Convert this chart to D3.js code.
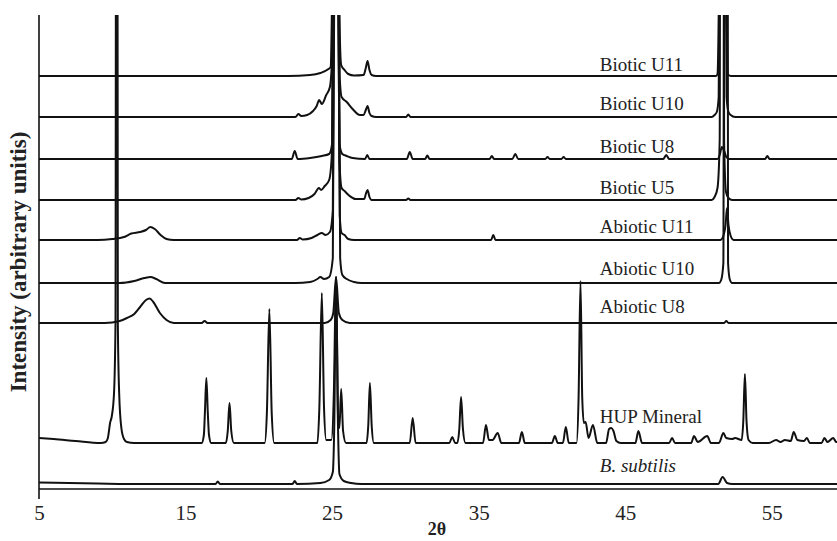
<!DOCTYPE html>
<html>
<head>
<meta charset="utf-8">
<script src="https://cdn.jsdelivr.net/npm/d3@7"></script>
<style>
  html, body { margin: 0; padding: 0; background: #fff; }
  svg { display: block; }
</style>
</head>
<body>
<svg id="chart" width="837" height="541"></svg>
<script>
// ---- DATA (2θ in degrees, intensity in arbitrary units above each trace's own baseline) ----
const seriesNames = ["Biotic U11", "Biotic U10", "Biotic U8", "Biotic U5",
  "Abiotic U11", "Abiotic U10", "Abiotic U8", "HUP Mineral", "B. subtilis"];
const stackOffsets = [413, 372, 330, 289, 249, 206, 166, 46, 5];
const xTicks = [5, 15, 25, 35, 45, 55];

const bioticU11 = [[5,0],[22,0],[23.5,1],[24.2,3],[24.65,6],[24.9,9],[24.98,60],[25.12,300],[25.25,3000],[25.38,300],[25.5,60],[25.62,11],[25.85,6],[26.1,2],[26.5,0.5],[27.15,1],[27.3,8],[27.42,15],[27.55,6],[27.7,1],[28,0],[51.2,0],[51.3,2],[51.38,60],[51.5,300],[51.65,3000],[51.8,300],[51.93,60],[52.0,2],[52.2,0],[60,0]];
const bioticU10 = [[5,0],[22.5,0],[22.7,3],[22.9,1],[23.3,2],[23.7,6],[23.95,11],[24.12,17],[24.3,13],[24.6,22],[24.85,30],[25.0,60],[25.12,300],[25.25,3000],[25.38,300],[25.52,40],[25.65,20],[26.0,15],[26.4,8],[26.9,2],[27.15,2],[27.3,7],[27.42,11],[27.55,4],[27.7,1],[28,0],[30.05,0],[30.2,2.5],[30.35,0],[50.9,0],[51.1,2],[51.25,5],[51.38,20],[51.5,300],[51.65,3000],[51.8,300],[51.92,20],[52.05,5],[52.2,2],[52.5,0],[60,0]];
const bioticU8 = [[5,0],[22.25,0],[22.45,8],[22.65,0],[23.5,1],[24.3,3],[24.8,5],[25.0,15],[25.12,300],[25.25,3000],[25.38,300],[25.5,15],[25.7,5],[26.0,3],[26.4,1],[27.25,0],[27.4,4],[27.55,0],[30.1,0],[30.3,7],[30.5,0],[31.35,0],[31.5,3.5],[31.65,0],[35.75,0],[35.9,3],[36.05,0],[37.3,0],[37.5,5],[37.7,0],[39.55,0],[39.7,2],[39.85,0],[40.65,0],[40.8,2],[40.95,0],[47.6,0],[47.8,4],[48.0,0],[51.3,0],[51.45,4],[51.6,12],[51.75,8],[51.9,2],[52.1,0],[54.55,0],[54.7,3],[54.85,0],[60,0]];
const bioticU5 = [[5,0],[22.5,0],[22.7,2],[22.9,0.5],[23.4,2],[23.8,6],[24.1,12],[24.25,10],[24.5,14],[24.8,20],[25.0,50],[25.12,300],[25.25,3000],[25.38,300],[25.5,40],[25.65,12],[25.85,9],[26.2,4],[26.6,1],[27.2,1],[27.3,6],[27.42,10],[27.55,3],[27.7,0],[30.05,0],[30.2,1.5],[30.35,0],[50.9,0],[51.1,3],[51.3,12],[51.45,60],[51.6,3000],[51.75,60],[51.88,8],[52.05,2],[52.3,0],[60,0]];
const abioticU11 = [[5,0],[9,0],[10,1],[10.8,3],[11.3,6.5],[11.9,8],[12.3,10],[12.6,13],[12.9,11],[13.3,5],[13.7,1],[14.2,0],[22.6,0],[22.8,2],[23.0,0.5],[23.6,2],[24.0,5],[24.3,7],[24.55,5],[24.85,8],[25.05,30],[25.15,300],[25.28,3000],[25.41,300],[25.52,25],[25.65,7],[25.85,5],[26.1,1],[26.5,0],[35.85,0],[36.0,5],[36.15,0],[51.5,0],[51.7,4],[51.85,15],[51.95,32],[52.05,15],[52.2,4],[52.4,0],[60,0]];
const abioticU10 = [[5,0],[10.5,0],[11.5,2],[12.2,5],[12.6,6],[13.0,4],[13.6,0],[22.5,0],[23.5,1],[24.0,4],[24.2,6],[24.45,4],[24.8,6],[25.05,25],[25.15,300],[25.3,3000],[25.45,300],[25.55,25],[25.7,8],[26.0,4],[26.5,1],[27,0],[51.4,0],[51.55,3],[51.7,20],[51.86,2500],[52.02,20],[52.15,3],[52.3,0],[60,0]];
const abioticU8 = [[5,0],[9.5,0],[10.5,2],[11.0,5],[11.5,9],[11.9,16],[12.3,23],[12.55,24.5],[12.8,21],[13.25,10],[13.7,3],[14.2,0],[16.1,0],[16.3,2],[16.5,0],[24.5,0],[24.9,3],[25.08,10],[25.27,46],[25.46,10],[25.7,3],[26.2,0],[51.75,0],[51.9,2],[52.05,0],[60,0]];
const hupMineral = [[5,5],[6,4],[7.5,2],[9.2,0],[9.55,1],[9.7,5],[9.85,20],[9.97,27],[10.12,50],[10.22,120],[10.3,1500],[10.38,120],[10.47,50],[10.62,15],[10.8,4],[11,1],[11.5,0],
  [16.1,0],[16.25,8],[16.32,30],[16.42,65],[16.52,30],[16.6,8],[16.75,0],
  [17.75,0],[17.88,12],[18.0,40],[18.12,12],[18.3,0],
  [20.4,0],[20.55,30],[20.72,134],[20.88,30],[21.05,0],
  [24.0,0],[24.13,35],[24.3,150],[24.45,35],[24.6,3],
  [24.95,3],[25.12,50],[25.27,166],[25.42,20],[25.5,15],[25.62,54],[25.75,12],[25.95,0],
  [27.35,0],[27.47,18],[27.58,60],[27.7,18],[27.85,0],
  [30.3,0],[30.5,25],[30.7,0],
  [33.0,0],[33.2,6],[33.4,0],
  [33.55,0],[33.68,14],[33.8,46],[33.93,14],[34.1,0],
  [35.3,0],[35.5,18],[35.7,3],[35.95,3],[36.3,10],[36.55,0],
  [37.75,0],[37.95,11],[38.15,0],
  [40.0,0],[40.2,7],[40.4,0],
  [40.75,0],[40.95,16],[41.15,0],
  [41.68,0],[41.82,45],[41.95,162],[42.07,45],[42.18,20],[42.3,21],[42.5,5],[42.8,18],[43.1,0],
  [43.7,0],[43.9,14],[44.05,15],[44.2,12],[44.4,2],[44.7,0],
  [45.7,0],[45.9,12],[46.15,0],
  [48.0,0],[48.2,5],[48.4,0],
  [49.5,0],[49.7,7],[49.95,1],[50.6,7],[50.85,0],
  [51.4,0],[51.7,10],[51.9,5],[52.3,4],[52.5,5],[52.95,3],[53.06,22],[53.17,69],[53.28,22],[53.42,3],[53.7,0],
  [54.8,0],[55.3,3],[55.6,1],[55.9,3],[56.3,2],[56.5,11],[56.75,3],[57.2,2],[57.4,5],[57.6,0],[58.4,0],[58.6,5],[58.8,1],[59.2,5],[59.4,1],[60,2]];
const bSubtilis = [[5,1.5],[9,0.5],[12,0],[17.05,0],[17.2,2.5],[17.35,0],[22.3,0],[22.45,3],[22.6,0],[24.2,1],[24.8,4],[25.05,12],[25.15,60],[25.27,207],[25.4,60],[25.5,10],[25.8,3],[26.3,1],[27,0],[51.35,0],[51.65,7],[51.95,1],[52.3,0],[60,0]];

const traces = [bioticU11, bioticU10, bioticU8, bioticU5, abioticU11, abioticU10, abioticU8, hupMineral, bSubtilis];

// ---- LAYOUT ----
const plot = { left: 39, right: 845, top: 15, bottom: 489 };
const labelAt2Theta = 43.27;
const labelLift = [5, 7, 6, 6, 7, 8, 10, 20, 12];

const svg = d3.select("#chart");
const x = d3.scaleLinear().domain([5, 60]).range([plot.left, plot.right]);
const y = d3.scaleLinear().domain([0, 474]).range([plot.bottom, plot.top]);

svg.append("defs").append("clipPath").attr("id", "plotclip")
  .append("rect").attr("x", plot.left).attr("y", plot.top)
  .attr("width", plot.right - plot.left).attr("height", plot.bottom - plot.top);

const g = svg.append("g").attr("clip-path", "url(#plotclip)");

traces.forEach((data, i) => {
  const off = stackOffsets[i];
  const line = d3.line()
    .x(d => x(d[0]))
    .y(d => y(off + d[1]))
    .curve(d3.curveMonotoneX);
  g.append("path").datum(data)
    .attr("d", line)
    .attr("fill", "none")
    .attr("stroke", "#111")
    .attr("stroke-width", 2)
    .attr("stroke-linejoin", "round");
});

// series labels
seriesNames.forEach((name, i) => {
  svg.append("text")
    .attr("x", x(labelAt2Theta))
    .attr("y", y(stackOffsets[i]) - labelLift[i])
    .attr("font-family", "'Liberation Serif', 'Times New Roman', serif")
    .attr("font-size", 19)
    .attr("font-style", name === "B. subtilis" ? "italic" : "normal")
    .attr("fill", "#222")
    .text(name);
});

// axes lines
svg.append("line").attr("x1", plot.left).attr("x2", plot.left)
  .attr("y1", plot.top).attr("y2", 499)
  .attr("stroke", "#111").attr("stroke-width", 1.6);
svg.append("line").attr("x1", plot.left).attr("x2", 837)
  .attr("y1", plot.bottom).attr("y2", plot.bottom)
  .attr("stroke", "#111").attr("stroke-width", 1.6);

const xAxis = d3.axisBottom(x).tickValues(xTicks).tickSize(0).tickPadding(16).tickFormat(d3.format("d"));
const ax = svg.append("g").attr("transform", `translate(0,${plot.bottom})`).call(xAxis);
ax.select(".domain").remove();
ax.selectAll("text")
  .attr("font-family", "'Liberation Serif', 'Times New Roman', serif")
  .attr("font-size", 21)
  .attr("fill", "#222");

// axis titles
svg.append("text")
  .attr("x", 437).attr("y", 535)
  .attr("text-anchor", "middle")
  .attr("font-family", "'Liberation Serif', 'Times New Roman', serif")
  .attr("font-size", 18).attr("font-weight", "bold").attr("fill", "#222")
  .text("2θ");

svg.append("text")
  .attr("transform", "translate(26,262) rotate(-90)")
  .attr("text-anchor", "middle")
  .attr("font-family", "'Liberation Serif', 'Times New Roman', serif")
  .attr("font-size", 23).attr("font-weight", "bold").attr("fill", "#222")
  .text("Intensity (arbitrary unitis)");
</script>
</body>
</html>
